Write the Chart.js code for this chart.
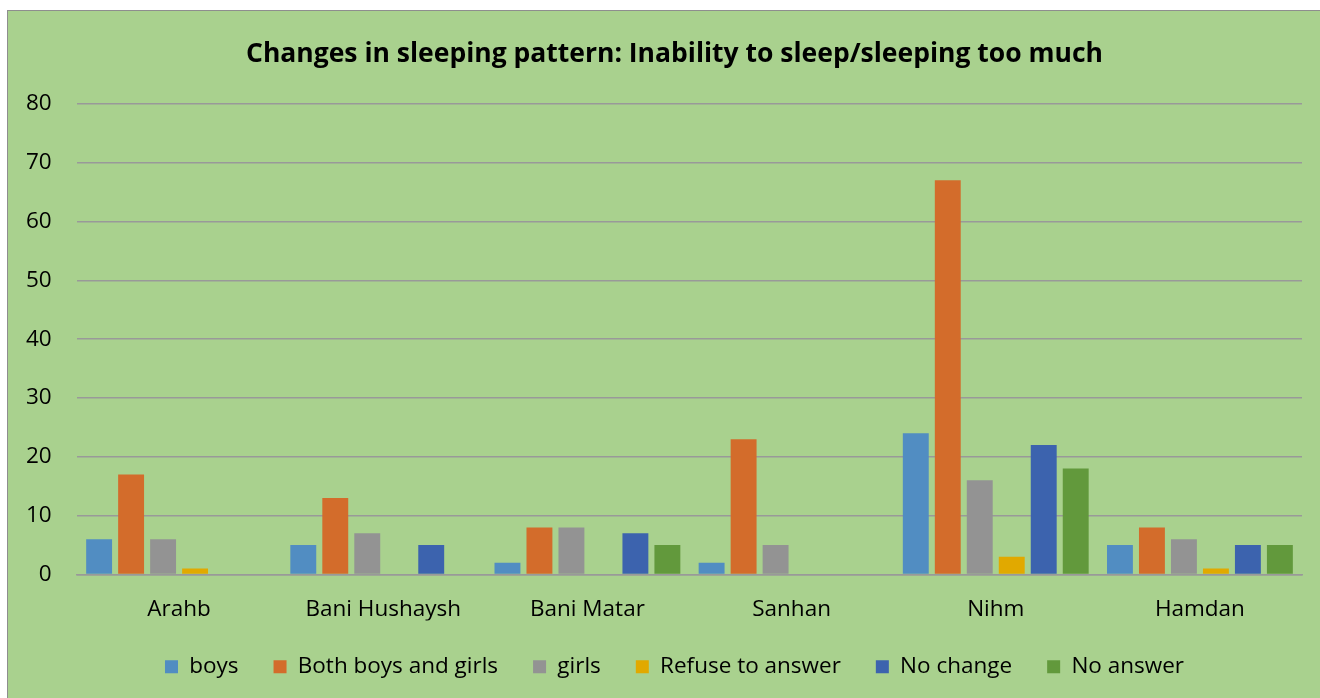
<!DOCTYPE html>
<html>
<head>
<meta charset="utf-8">
<script src="https://cdn.jsdelivr.net/npm/chart.js@4"></script>
<style>
  html, body { margin: 0; padding: 0; background: #fff; }
  #box {
    position: absolute; left: 7px; top: 10px; width: 1313px; height: 688px;
    background: #a9d18e; border-top: 1px solid #8e8e8e; border-left: 1px solid #8e8e8e;
  }
  canvas { display: block; }
</style>
</head>
<body>
<div id="box"><canvas id="myChart" width="1312" height="687"></canvas></div>
<script>
'use strict';

// districts and counts per answer
const categories = ['Arahb', 'Bani Hushaysh', 'Bani Matar', 'Sanhan', 'Nihm', 'Hamdan'];
const boys = [6, 5, 2, 2, 24, 5];
const bothBoysGirls = [17, 13, 8, 23, 67, 8];
const girls = [6, 7, 8, 5, 16, 6];
const refuseToAnswer = [1, 0, 0, 0, 3, 1];
const noChange = [0, 5, 7, 0, 22, 5];
const noAnswer = [0, 0, 5, 0, 18, 5];
const yTicks = [0, 10, 20, 30, 40, 50, 60, 70, 80];

const FONT = '"Open Sans", Lato, sans-serif';

function series(label, data, color) {
   return { label: label, data: data, backgroundColor: color, borderWidth: 0 };
}

const ctx = document.getElementById('myChart');
const myChart = new Chart(ctx, {
   type: 'bar',
   data: {
      labels: categories,
      datasets: [
         series('boys', boys, '#518dc2'),
         series('Both boys and girls', bothBoysGirls, '#d36c2b'),
         series('girls', girls, '#939393'),
         series('Refuse to answer', refuseToAnswer, '#e1a900'),
         series('No change', noChange, '#3c63ae'),
         series('No answer', noAnswer, '#62993c')
      ]
   },
   options: {
      responsive: false,
      animation: false,
      categoryPercentage: 0.94,
      barPercentage: 0.81,
      // left padding pushes title and legend right like the original; y axis width makes up the rest
      layout: { padding: { left: 39, right: 18, top: 0, bottom: 10 } },
      plugins: {
         tooltip: { enabled: false },
         title: {
            display: true,
            text: 'Changes in sleeping pattern: Inability to sleep/sleeping too much',
            color: '#000',
            font: { family: FONT, size: 26.5, weight: 'bold' },
            padding: { top: 28, bottom: 33 }
         },
         legend: {
            position: 'bottom',
            labels: {
               color: '#000',
               font: { family: FONT, size: 22.5 },
               boxWidth: 13, boxHeight: 13,
               padding: 35
            }
         }
      },
      scales: {
         x: {
            grid: { display: false, drawTicks: false },
            border: { display: true, color: '#999', width: 1.5 },
            afterFit: function (scale) { scale.height = 46; },
            ticks: { color: '#000', font: { family: FONT, size: 22.5 }, padding: 22 }
         },
         y: {
            min: 0, max: 80,
            afterBuildTicks: function (scale) {
               scale.ticks = yTicks.map(function (v) { return { value: v }; });
            },
            afterFit: function (scale) { scale.width = 30; },
            grid: { color: '#999', lineWidth: 1.5, drawTicks: false },
            border: { display: false },
            // mirror avoids clipping to the narrow axis box; negative padding moves labels back left
            ticks: { color: '#000', font: { family: FONT, size: 22.5 }, mirror: true, crossAlign: 'far', padding: -51 }
         }
      }
   }
});
</script>
</body>
</html>
